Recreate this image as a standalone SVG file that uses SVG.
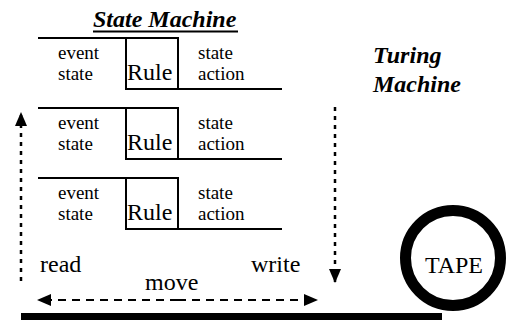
<svg xmlns="http://www.w3.org/2000/svg" width="508" height="320" viewBox="0 0 508 320" font-family="'Liberation Serif', 'Times New Roman', Tinos, 'DejaVu Serif', serif">
<defs>
<style>
text{font-family:'Liberation Serif','Times New Roman',Tinos,'DejaVu Serif',serif;fill:#000}
.sm{font-size:19px}
.big{font-size:24px}
.bi{font-size:24px;font-weight:bold;font-style:italic}
.ln{fill:none;stroke:#000;stroke-width:2}
.dot{fill:none;stroke:#000;stroke-width:2.5;stroke-dasharray:4 5}
.dash{fill:none;stroke:#000;stroke-width:2;stroke-dasharray:8 6}
</style>
<marker id="ah" viewBox="0 0 14 12" refX="13" refY="6" markerWidth="14" markerHeight="12" markerUnits="userSpaceOnUse" orient="auto">
<path d="M0,0 L14,6 L0,12 Z" fill="#000"/>
</marker>
</defs>
<rect width="508" height="320" fill="#fff"/>

<g id="title">
<text class="bi" x="93" y="27">State Machine</text>
<line x1="93" y1="31.5" x2="238" y2="31.5" stroke="#000" stroke-width="2"/>
</g>

<g id="turing-label">
<text class="bi" x="373" y="63">Turing</text>
<text class="bi" x="373" y="92">Machine</text>
</g>

<g id="rule1">
<path class="ln" d="M38,38 H178 V89 M126,38 V89 H282"/>
<text class="sm" x="58" y="59">event</text>
<text class="sm" x="58" y="80">state</text>
<text class="big" x="127" y="80">Rule</text>
<text class="sm" x="198" y="59">state</text>
<text class="sm" x="198" y="80">action</text>
</g>

<g id="rule2">
<path class="ln" d="M38,108 H178 V159 M126,108 V159 H282"/>
<text class="sm" x="58" y="129">event</text>
<text class="sm" x="58" y="150">state</text>
<text class="big" x="127" y="150">Rule</text>
<text class="sm" x="198" y="129">state</text>
<text class="sm" x="198" y="150">action</text>
</g>

<g id="rule3">
<path class="ln" d="M38,178 H178 V229 M126,178 V229 H282"/>
<text class="sm" x="58" y="199">event</text>
<text class="sm" x="58" y="220">state</text>
<text class="big" x="127" y="220">Rule</text>
<text class="sm" x="198" y="199">state</text>
<text class="sm" x="198" y="220">action</text>
</g>

<g id="tape">
<rect x="21" y="313" width="421" height="9" fill="#000"/>
<circle cx="453" cy="258" r="47.5" fill="#fff" stroke="#000" stroke-width="11"/>
<text class="big" x="454" y="273" text-anchor="middle">TAPE</text>
</g>

<g id="labels">
<text class="big" x="40" y="272">read</text>
<text class="big" x="145" y="290">move</text>
<text class="big" x="251" y="272">write</text>
</g>

<g id="connectors">
<line class="dot" x1="21" y1="281" x2="21" y2="113" marker-end="url(#ah)"/>
<line class="dot" x1="335" y1="107" x2="335" y2="282" marker-end="url(#ah)"/>
<line class="dash" x1="178" y1="300" x2="38" y2="300" marker-end="url(#ah)"/>
<line class="dash" x1="178" y1="300" x2="317" y2="300" marker-end="url(#ah)"/>
</g>
</svg>
